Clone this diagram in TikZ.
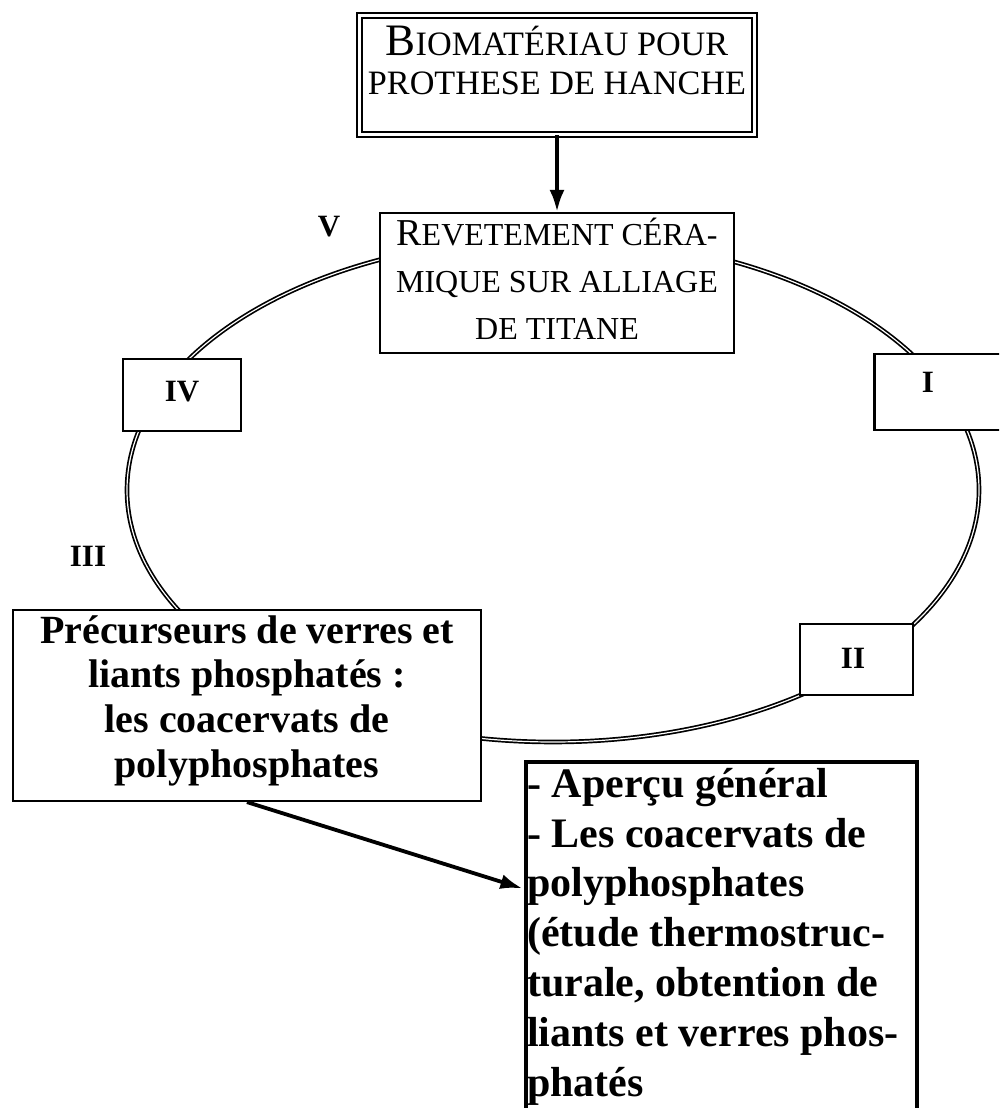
\documentclass[tikz,border=0pt]{standalone}
\usepackage{fontspec}
\setmainfont{Liberation Serif}
\usetikzlibrary{arrows.meta,calc}

% enlarged initials of the small-caps style headings
\newcommand\initcap[1]{{\fontsize{45}{45}\selectfont #1}}
\newcommand\initcapsmall[1]{{\fontsize{38}{38}\selectfont #1}}

\begin{document}
\begin{tikzpicture}[x=1pt,y=-1pt,
  frame/.style={draw, line width=2.2pt, fill=white, inner sep=0pt},
  ring/.style={draw, line width=1.7pt, double=white, double distance=1.2pt},
  txt/.style={inner sep=0pt, align=center},
  numlabel/.style={inner sep=0pt, font=\fontsize{31}{31}\selectfont\bfseries},
  bigarrow/.style={line width=3.8pt, -{Latex[length=22pt,width=15pt]}}
]
\clip (0,0) rectangle (999,1108);

% the cycle linking the five stages
\draw[ring] (553,490) ellipse [x radius=426pt, y radius=252pt];

% boxes
\node[frame, double, double distance=3pt, line width=1.9pt,
      minimum width=395pt, minimum height=119pt] (bio) at (557,75) {};
\node[frame, minimum width=354pt, minimum height=140pt] (mid) at (557,283) {};
\node[frame, minimum width=118pt, minimum height=72pt] (four) at (182,395) {};
\node[frame, minimum width=135pt, minimum height=76pt] (one) at (942,392) {};
\node[frame, minimum width=113pt, minimum height=71pt] (two) at (856.5,659.5) {};
\node[frame, minimum width=468pt, minimum height=191pt] (prec) at (247,705.5) {};
\node[frame, line width=3.2pt, minimum width=391pt, minimum height=378pt] (notes) at (721.5,951) {};

% texts (each first line carries a strut of known height, so the
% north anchor sits a fixed distance above the first baseline)
\node[txt, anchor=north, font=\fontsize{34.2}{39}\selectfont] (biot) at (557,23)
  {\rule{0pt}{32pt}\initcap{B}IOMATÉRIAU POUR\\PROTHESE DE HANCHE};
\node[txt, anchor=north, font=\fontsize{32}{47}\selectfont] (midt) at (557,213)
  {\rule{0pt}{32pt}\initcapsmall{R}EVETEMENT CÉRA-\\MIQUE SUR ALLIAGE\\DE TITANE};
\node[txt, anchor=north, font=\fontsize{40}{44.7}\selectfont\bfseries] (prect) at (247,607)
  {\rule{0pt}{36pt}Précurseurs de verres et\\liants phosphatés :\\les coacervats de\\polyphosphates};
\node[inner sep=0pt, align=left, anchor=north west, font=\fontsize{42}{49.8}\selectfont\bfseries] (notest) at (527,757)
  {\rule{0pt}{40pt}- Aperçu général\\- Les coacervats de\\polyphosphates\\(étude thermostruc-\\turale, obtention de\\liants et verres phos-\\phatés};

% stage numbers
\node[numlabel] (lv) at (329,227) {V};
\node[numlabel] (liii) at (88,556) {III};
\node[numlabel] (liv) at (182,392) {IV};
\node[numlabel] (li) at (928,382) {I};
\node[numlabel] (lii) at (853,658) {II};

% arrows
\draw[bigarrow] (bio.south) -- (mid.north);
\draw[bigarrow] (prec.south) -- ($(notes.north west)+(-2,128)$);
\end{tikzpicture}
\end{document}
